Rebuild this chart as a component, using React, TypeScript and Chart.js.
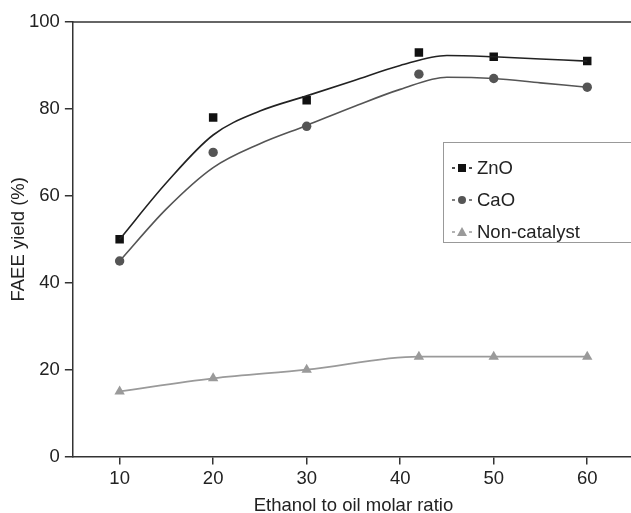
import React, { useEffect, useRef } from "react";
import { Chart, registerables } from "chart.js";

Chart.register(...registerables);

// Measured data
const ratios = [10, 20, 30, 42, 50, 60];
const znoYield = [50, 78, 82, 93, 92, 91];
const caoYield = [45, 70, 76, 88, 87, 85];
const nonCatYield = [15, 18, 20, 23, 23, 23];

// Fitted trend curves
const curveX = [10, 15, 20, 25, 30, 35, 40, 45, 50, 55, 60];
const znoCurve = [50, 63, 74, 79.5, 83, 86.5, 90, 92.3, 92, 91.5, 91];
const caoCurve = [45, 57, 66.5, 72, 76.2, 80.5, 84.5, 87.3, 87, 86, 85];

const xTicks = [10, 20, 30, 40, 50, 60];
const yTicks = [0, 20, 40, 60, 80, 100];

const legendItems = [
  { label: "ZnO", style: "rect", color: "#111111" },
  { label: "CaO", style: "circle", color: "#555555" },
  { label: "Non-catalyst", style: "triangle", color: "#9a9a9a" },
];

const FONT = "'Liberation Sans', Arial, Helvetica, sans-serif";
const FS = 18.5;

const pts = (xs: number[], ys: number[]) => xs.map((x, i) => ({ x, y: ys[i] }));

const framePlugin = {
  id: "frame",
  afterDraw(chart: any) {
    const { ctx, chartArea } = chart;
    ctx.save();
    ctx.strokeStyle = "#333";
    ctx.lineWidth = 1.5;
    ctx.beginPath();
    ctx.moveTo(chartArea.left, chartArea.top);
    ctx.lineTo(chartArea.right, chartArea.top);
    ctx.stroke();

    // legend box
    const bx = 443.5, by = 142.5, bw = 260, bh = 100;
    ctx.fillStyle = "#fff";
    ctx.fillRect(bx, by, bw, bh);
    ctx.strokeStyle = "#999";
    ctx.lineWidth = 1;
    ctx.strokeRect(bx, by, bw, bh);
    const rowY = [168, 200, 232];
    legendItems.forEach((it, i) => {
      const cy = rowY[i];
      const cx = 462;
      ctx.strokeStyle = it.color;
      ctx.lineWidth = 1.5;
      ctx.beginPath();
      ctx.moveTo(452, cy); ctx.lineTo(455, cy);
      ctx.moveTo(469, cy); ctx.lineTo(472, cy);
      ctx.stroke();
      ctx.fillStyle = it.color;
      ctx.beginPath();
      if (it.style === "rect") ctx.rect(cx - 4, cy - 4, 8, 8);
      else if (it.style === "circle") ctx.arc(cx, cy, 4, 0, Math.PI * 2);
      else { ctx.moveTo(cx, cy - 5); ctx.lineTo(cx + 5, cy + 4); ctx.lineTo(cx - 5, cy + 4); ctx.closePath(); }
      ctx.fill();
      ctx.fillStyle = "#222";
      ctx.font = `${FS}px ${FONT}`;
      ctx.textBaseline = "middle";
      ctx.textAlign = "left";
      ctx.fillText(it.label, 477, cy + 1);
    });
    ctx.restore();
  },
};

export default function App() {
  const ref = useRef<HTMLCanvasElement | null>(null);
  useEffect(() => {
    if (!ref.current) return;
    const chart = new Chart(ref.current, {
      type: "line",
      data: {
        datasets: [
          {
            label: "ZnO fit",
            data: pts(curveX, znoCurve),
            borderColor: "#222",
            borderWidth: 1.6,
            pointRadius: 0,
            cubicInterpolationMode: "monotone",
          },
          {
            label: "ZnO",
            data: pts(ratios, znoYield),
            showLine: false,
            pointStyle: "rect",
            pointRadius: 6,
            backgroundColor: "#111",
            borderColor: "#111",
            borderWidth: 0,
          },
          {
            label: "CaO fit",
            data: pts(curveX, caoCurve),
            borderColor: "#555",
            borderWidth: 1.6,
            pointRadius: 0,
            cubicInterpolationMode: "monotone",
          },
          {
            label: "CaO",
            data: pts(ratios, caoYield),
            showLine: false,
            pointStyle: "circle",
            pointRadius: 4.7,
            backgroundColor: "#555",
            borderColor: "#555",
            borderWidth: 0,
          },
          {
            label: "Non-catalyst",
            data: pts(ratios, nonCatYield),
            borderColor: "#9a9a9a",
            borderWidth: 1.8,
            pointStyle: "triangle",
            pointRadius: 6,
            backgroundColor: "#9a9a9a",
            pointBorderColor: "#9a9a9a",
            pointBorderWidth: 0,
            cubicInterpolationMode: "monotone",
          },
        ],
      } as any,
      options: {
        animation: false,
        responsive: false,
        layout: { padding: { top: 22, left: 6, right: 0, bottom: 0 } },
        plugins: { legend: { display: false }, tooltip: { enabled: false } },
        scales: {
          x: {
            type: "linear",
            min: 5,
            max: 65,
            afterBuildTicks: (s: any) => {
              s.ticks = xTicks.map((v) => ({ value: v }));
            },
            grid: { display: true, drawOnChartArea: false, drawTicks: true, tickLength: 8, color: "#333", lineWidth: 1.5 },
            border: { display: true, color: "#333", width: 1.5 },
            ticks: { color: "#222", font: { family: FONT, size: FS }, padding: 3, maxRotation: 0 },
            title: { display: true, text: "Ethanol to oil molar ratio", color: "#222", font: { family: FONT, size: FS }, padding: { top: 2, bottom: 0 } },
          },
          y: {
            type: "linear",
            min: 0,
            max: 100,
            afterBuildTicks: (s: any) => {
              s.ticks = yTicks.map((v) => ({ value: v }));
            },
            grid: { display: true, drawOnChartArea: false, drawTicks: true, tickLength: 8, color: "#333", lineWidth: 1.5 },
            border: { display: true, color: "#333", width: 1.5 },
            ticks: { color: "#222", font: { family: FONT, size: FS }, padding: 5 },
            title: { display: true, text: "FAEE yield (%)", color: "#222", font: { family: FONT, size: FS, lineHeight: 1 }, padding: { top: 4, bottom: -4.5 } },
          },
        },
      } as any,
      plugins: [framePlugin],
    });
    return () => chart.destroy();
  }, []);
  return (
    <div style={{ position: "fixed", left: 0, top: 0, width: 631, height: 513, overflow: "hidden", background: "#fff" }}>
      <canvas ref={ref} width={640} height={517} style={{ display: "block", width: 640, height: 517 }} />
    </div>
  );
}
